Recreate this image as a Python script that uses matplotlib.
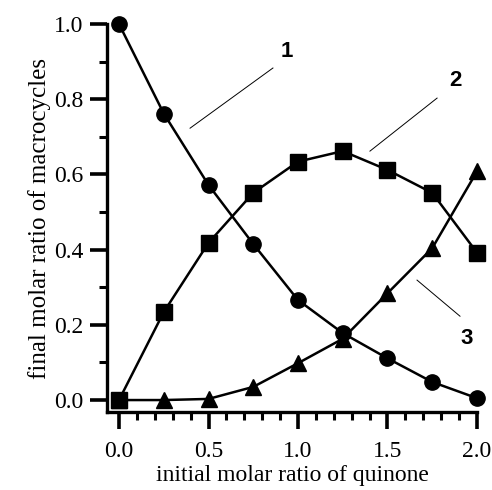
import numpy as np
import matplotlib
matplotlib.use('Agg')
import matplotlib.pyplot as plt
from matplotlib.ticker import MultipleLocator

# quinone ratio
x = [0.0, 0.25, 0.5, 0.75, 1.0, 1.25, 1.5, 1.75, 2.0]

# final molar ratio of each macrocycle
ring1 = [1.0, 0.762, 0.572, 0.415, 0.266, 0.178, 0.111, 0.048, 0.005]
ring2 = [0.0, 0.234, 0.418, 0.551, 0.634, 0.662, 0.612, 0.551, 0.392]
ring3 = [0.0, 0.0, 0.003, 0.035, 0.098, 0.163, 0.284, 0.404, 0.608]

plt.rcParams['font.family'] = ['Liberation Serif', 'DejaVu Serif']

fig = plt.figure(figsize=(4.92, 4.90), dpi=100)
ax = fig.add_axes([0.2175, 0.159, 0.752, 0.792])

ax.plot(x, ring1, '-o', color='black', lw=1.8, ms=11, clip_on=False, zorder=3)
ax.plot(x, ring2, '-s', color='black', lw=1.8, ms=11.5, clip_on=False, zorder=3)
ax.plot(x, ring3, '-^', color='black', lw=1.8, ms=12, clip_on=False, zorder=3)

ax.set_xlim(-0.067, 2.0)
ax.set_ylim(-0.032, 1.0)

for s in ['top', 'right']:
    ax.spines[s].set_visible(False)
for s in ['left', 'bottom']:
    ax.spines[s].set_linewidth(2.4)

ax.xaxis.set_major_locator(MultipleLocator(0.5))
ax.xaxis.set_minor_locator(MultipleLocator(0.1))
ax.yaxis.set_major_locator(MultipleLocator(0.2))
ax.yaxis.set_minor_locator(MultipleLocator(0.1))
ax.xaxis.set_major_formatter(matplotlib.ticker.FormatStrFormatter('%.1f'))
ax.yaxis.set_major_formatter(matplotlib.ticker.FormatStrFormatter('%.1f'))
ax.tick_params(which='major', direction='out', length=12, width=2.6, labelsize=17, pad=5)
ax.tick_params(axis='x', which='major', pad=9)
ax.tick_params(which='minor', direction='out', length=6, width=2.2)

ax.set_xlabel('initial molar ratio of quinone', fontsize=17, labelpad=2)
ax.set_ylabel('final molar ratio of macrocycles', fontsize=18, labelpad=2)

# curve labels with pointer lines
ax.plot([0.397, 0.86], [0.723, 0.883], color='black', lw=0.7)
ax.plot([1.402, 1.777], [0.662, 0.803], color='black', lw=0.7)
ax.plot([1.665, 1.905], [0.319, 0.223], color='black', lw=0.7)
lab = dict(family='Liberation Sans', fontweight='bold', fontsize=16, ha='center', va='center')
ax.text(0.94, 0.926, '1', **lab)
ax.text(1.877, 0.851, '2', **lab)
ax.text(1.944, 0.165, '3', **lab)

plt.savefig('out.png', dpi=100)
